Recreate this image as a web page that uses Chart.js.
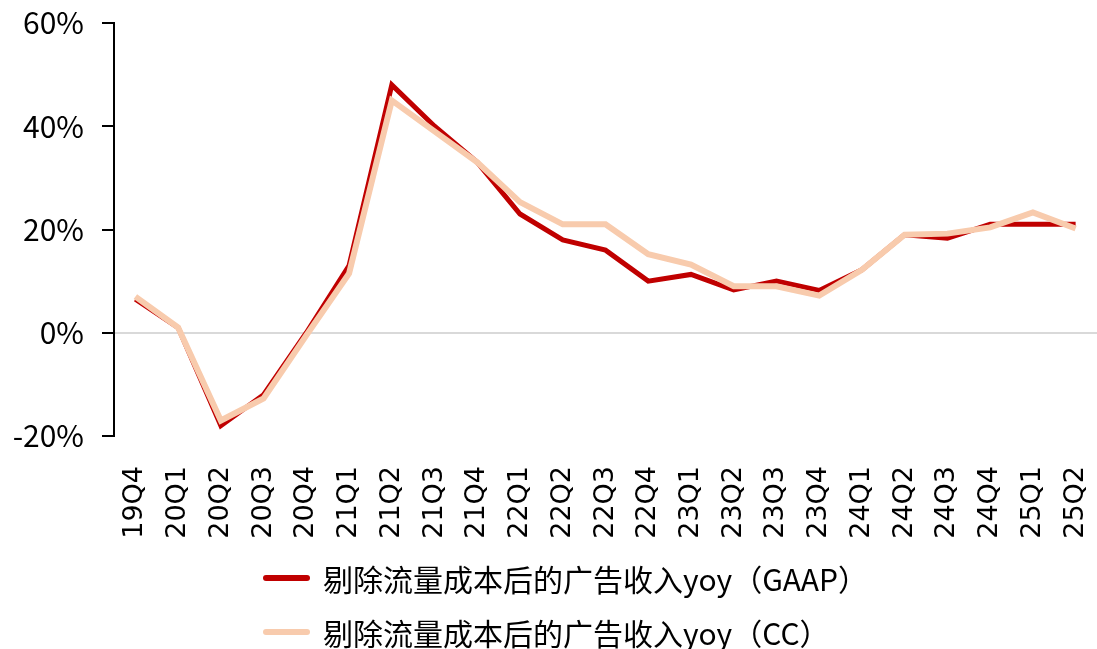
<!DOCTYPE html>
<html>
<head>
<meta charset="utf-8">
<script src="https://cdn.jsdelivr.net/npm/chart.js@4.4.1/dist/chart.umd.min.js"></script>
<style>
  body { margin: 0; background: #fff; }
  #wrap { position: relative; width: 1097px; height: 649px; }
  #legend { position: absolute; left: 263px; top: 551px; font-family: "Noto Sans CJK SC", sans-serif; font-size: 30px; color: #000; }
  .item { display: flex; align-items: center; height: 54px; }
  .swatch { width: 47px; height: 6px; border-radius: 3px; margin-right: 13px; }
</style>
</head>
<body>
<div id="wrap">
  <canvas id="revChart" width="1097" height="649"></canvas>
  <div id="legend"></div>
</div>
<script>
// quarters on the x axis
const quarters = ['19Q4', '20Q1', '20Q2', '20Q3', '20Q4', '21Q1', '21Q2', '21Q3', '21Q4',
  '22Q1', '22Q2', '22Q3', '22Q4', '23Q1', '23Q2', '23Q3', '23Q4',
  '24Q1', '24Q2', '24Q3', '24Q4', '25Q1', '25Q2'];

// YoY growth of ad revenue ex-TAC, %
const gaapYoy = [6.5, 1, -18, -12, 0, 13, 48, 40, 33, 23, 18, 16, 10, 11.3, 8.3, 10, 8.2, 12.2, 19, 18.3, 21, 21, 21];
const ccYoy = [7, 1, -17, -12.7, -0.5, 11.5, 45, 39, 33, 25.3, 21, 21, 15.2, 13.2, 9, 9, 7.2, 12.2, 19, 19.2, 20.4, 23.3, 20.2];

const yTicks = [-20, 0, 20, 40, 60];

const seriesNames = ['剔除流量成本后的广告收入yoy（GAAP）', '剔除流量成本后的广告收入yoy（CC）'];
const seriesColors = ['#C00000', '#F8CBAD'];

const ctx = document.getElementById('revChart').getContext('2d');
const revChart = new Chart(ctx, {
  type: 'line',
  data: {
    labels: quarters,
    datasets: [
      {
        label: seriesNames[0],
        data: gaapYoy,
        borderColor: seriesColors[0],
        borderWidth: 5,
        pointRadius: 0,
        tension: 0,
        order: 1
      },
      {
        label: seriesNames[1],
        data: ccYoy,
        borderColor: seriesColors[1],
        borderWidth: 6,
        pointRadius: 0,
        tension: 0,
        order: 0
      }
    ]
  },
  options: {
    responsive: false,
    animation: false,
    layout: { padding: { top: 23, right: 0, bottom: 0, left: 0 } },
    plugins: {
      legend: { display: false },
      tooltip: { enabled: false }
    },
    scales: {
      x: {
        offset: true,
        grid: { display: false },
        border: { display: false },
        ticks: {
          color: '#000',
          minRotation: 90,
          maxRotation: 90,
          padding: 22,
          font: { family: 'DejaVu Sans', size: 27 }
        },
        afterFit: function(scale) {
          scale.height = 213;
          scale.paddingRight = 0;
          scale.paddingLeft = 0;
        }
      },
      y: {
        min: -20,
        max: 60,
        afterBuildTicks: function(scale) {
          scale.ticks = yTicks.map(v => ({ value: v }));
        },
        afterFit: function(scale) {
          scale.width = 114;
          scale.paddingTop = 0;
          scale.paddingBottom = 0;
        },
        border: { display: true, color: '#000', width: 2 },
        grid: {
          color: c => (c.tick && c.tick.value === 0) ? '#D9D9D9' : 'rgba(0,0,0,0)',
          lineWidth: 2,
          tickColor: '#000',
          tickLength: 12,
          drawTicks: true
        },
        ticks: {
          color: '#000',
          padding: 18,
          font: { family: 'Noto Sans CJK SC', size: 30 },
          callback: v => v + '%'
        }
      }
    }
  }
});

// legend rows under the chart
const legendEl = document.getElementById('legend');
revChart.data.datasets.forEach(ds => {
  const row = document.createElement('div');
  row.className = 'item';
  const sw = document.createElement('span');
  sw.className = 'swatch';
  sw.style.background = ds.borderColor;
  const txt = document.createElement('span');
  txt.textContent = ds.label;
  row.appendChild(sw);
  row.appendChild(txt);
  legendEl.appendChild(row);
});
</script>
</body>
</html>
